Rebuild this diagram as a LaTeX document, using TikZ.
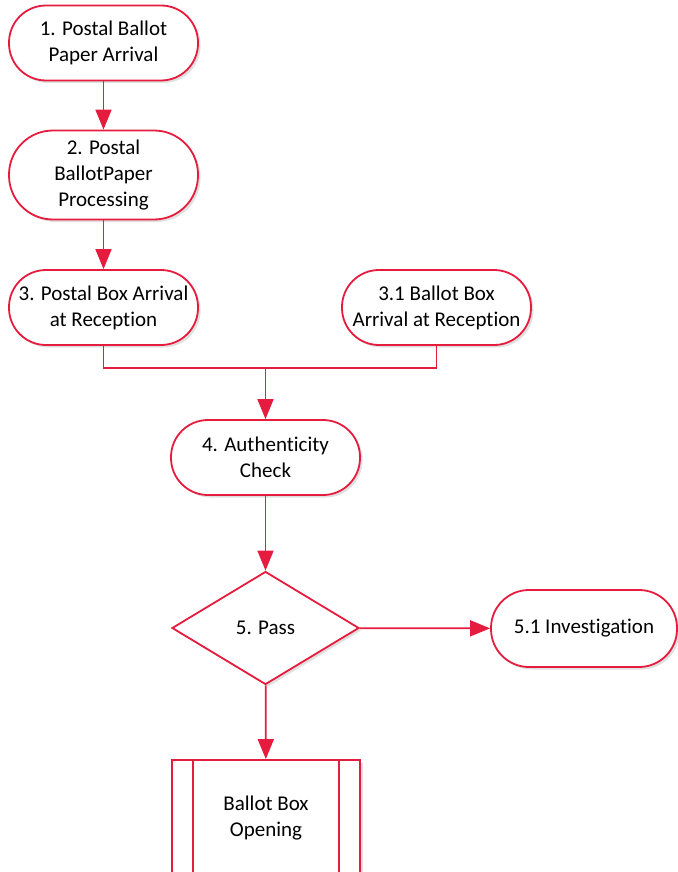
\documentclass[tikz,border=0pt]{standalone}
\usepackage{fontspec}
\setmainfont{Carlito}[Ligatures={NoCommon}]
\usetikzlibrary{arrows.meta,shapes.geometric,shadows}
\definecolor{flowred}{RGB}{230,28,62}
\tikzset{
  base/.style={draw=flowred, line width=1.8pt, fill=white, align=center,
    font=\fontsize{21}{26}\selectfont, inner sep=0pt,
    drop shadow={shadow xshift=2.5pt, shadow yshift=-2.5pt, fill=black, opacity=0.12}},
  term/.style={base, rectangle, rounded corners=37pt, minimum width=189pt, minimum height=75pt},
  tall/.style={term, rounded corners=44pt, minimum height=89pt},
  decide/.style={base, diamond, aspect=1.65, minimum width=187pt, minimum height=113pt},
  subproc/.style={base, rectangle, minimum width=188pt, minimum height=116pt},
  link/.style={draw=flowred, line width=1.8pt},
  flow/.style={link, -{Triangle[length=20pt,width=16pt]}}
}
\begin{document}
\begin{tikzpicture}[x=1pt,y=-1pt]
\useasboundingbox (0,0) rectangle (677,872);
% process nodes
\node[term] (n1) at (103.5,43) {1. Postal Ballot\\Paper Arrival};
\node[tall] (n2) at (103.5,175) {2. Postal\\BallotPaper\\Processing};
\node[term] (n3) at (103.5,307.5) {3. Postal Box Arrival\\at Reception};
\node[term] (n31) at (436.5,307.5) {3.1 Ballot Box\\Arrival at Reception};
\node[term] (n4) at (265.5,457.5) {4. Authenticity\\Check};
\node[decide] (n5) at (265.5,628) {5. Pass};
\node[term, minimum width=186pt, minimum height=77pt, rounded corners=38pt] (n51) at (584,628.5) {5.1 Investigation};
\node[subproc] (n6) at (266,818) {Ballot Box\\Opening};
% side bars of the predefined process box
\draw[link] ([xshift=22pt]n6.north west) -- ([xshift=22pt]n6.south west);
\draw[link] ([xshift=-22pt]n6.north east) -- ([xshift=-22pt]n6.south east);
% connectors
\coordinate (j) at (265.5,368);
\draw[flow] (n1) -- (n2);
\draw[flow] (n2) -- (n3);
\draw[link] (n3.south) |- (j) -| (n31.south);
\draw[flow] (j) -- (n4.north);
\draw[flow] (n4) -- (n5);
\draw[flow] (n5) -- (n51);
\draw[flow] (n5) -- (n6);
\end{tikzpicture}
\end{document}
